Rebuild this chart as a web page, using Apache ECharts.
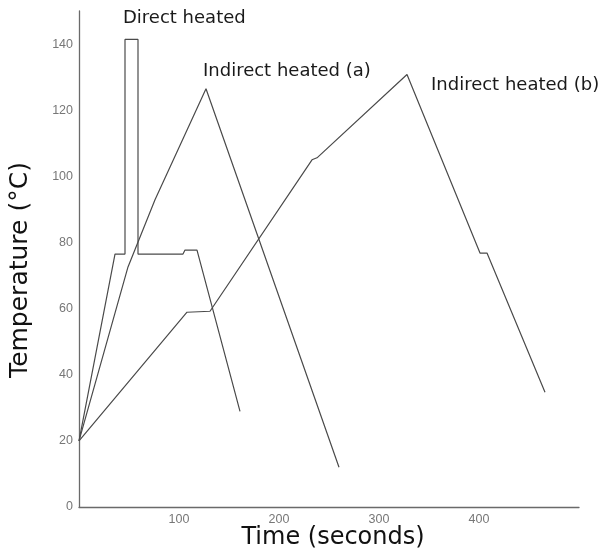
<!DOCTYPE html>
<html>
<head>
<meta charset="utf-8">
<script src="https://cdn.jsdelivr.net/npm/echarts@6/dist/echarts.min.js"></script>
<style>html,body{margin:0;padding:0;background:#fff;}#c{width:605px;height:555px;}</style>
</head>
<body>
<div id="c"></div>
<script>
// Time (s), Temperature (°C)
const directTime = [0, 36, 46, 46, 59, 59, 104, 106, 118, 161];
const directTemp = [20, 76.5, 76.5, 141.4, 141.4, 76.5, 76.5, 77.7, 77.7, 28.9];
const indirectATime = [0, 49, 76, 127, 260];
const indirectATemp = [20, 72.6, 92.9, 126.5, 12.0];
const indirectBTime = [0, 108, 131, 233, 238, 328, 401, 408, 466];
const indirectBTemp = [20, 58.9, 59.2, 105.0, 105.6, 130.8, 76.8, 76.8, 34.7];
const seriesNames = ['Direct heated', 'Indirect heated (a)', 'Indirect heated (b)'];
const xTicks = [100, 200, 300, 400];
const yTicks = [0, 20, 40, 60, 80, 100, 120, 140];
const xTitle = 'Time (seconds)';
const yTitle = 'Temperature (°C)';

function pairs(t, v) { return t.map((x, i) => [x, v[i]]); }

const chart = echarts.init(document.getElementById('c'), null, {renderer: 'canvas'});
const lineStyle = {color: '#4a4a4a', width: 1.2};
const mk = (name, t, v) => ({
  name: name, type: 'line', data: pairs(t, v), showSymbol: false, symbol: 'none',
  lineStyle: lineStyle, animation: false, z: 3
});
chart.setOption({
  animation: false,
  backgroundColor: '#ffffff',
  grid: {left: 79, right: 26, top: 11, bottom: 48, containLabel: false, outerBoundsMode: 'none'},
  xAxis: {
    type: 'value', min: 0, max: 500, interval: 100,
    axisLine: {show: true, onZero: false, lineStyle: {color: '#6a6a6a', width: 1.3}},
    axisTick: {show: false}, splitLine: {show: false},
    axisLabel: {
      color: '#777', fontFamily: 'Liberation Sans', fontSize: 12.5, margin: 6,
      showMinLabel: false, showMaxLabel: false,
      formatter: v => xTicks.indexOf(v) >= 0 ? String(v) : ''
    }
  },
  yAxis: {
    type: 'value', min: 0, max: 150, interval: 20,
    axisLine: {show: true, onZero: false, lineStyle: {color: '#6a6a6a', width: 1.3}},
    axisTick: {show: false}, splitLine: {show: false},
    axisLabel: {
      color: '#777', fontFamily: 'Liberation Sans', fontSize: 12.5, margin: 6,
      showMaxLabel: false,
      formatter: v => yTicks.indexOf(v) >= 0 ? String(v) : ''
    }
  },
  series: [
    mk(seriesNames[0], directTime, directTemp),
    mk(seriesNames[1], indirectATime, indirectATemp),
    mk(seriesNames[2], indirectBTime, indirectBTemp)
  ],
  graphic: [
    {type: 'text', left: 123, top: 9, style: {text: seriesNames[0], fontFamily: 'DejaVu Sans', fontSize: 18, fill: '#1a1a1a'}},
    {type: 'text', left: 203, top: 62, style: {text: seriesNames[1], fontFamily: 'DejaVu Sans', fontSize: 18, fill: '#1a1a1a'}},
    {type: 'text', left: 431, top: 76, style: {text: seriesNames[2], fontFamily: 'DejaVu Sans', fontSize: 18, fill: '#1a1a1a'}},
    {type: 'text', x: 333, y: 538, style: {text: xTitle, fontFamily: 'DejaVu Sans', fontSize: 24, fill: '#111', align: 'center', verticalAlign: 'middle'}},
    {type: 'text', x: 20, y: 270, rotation: Math.PI / 2, style: {text: yTitle, fontFamily: 'DejaVu Sans', fontSize: 25, fill: '#111', align: 'center', verticalAlign: 'middle'}}
  ]
});
</script>
</body>
</html>
